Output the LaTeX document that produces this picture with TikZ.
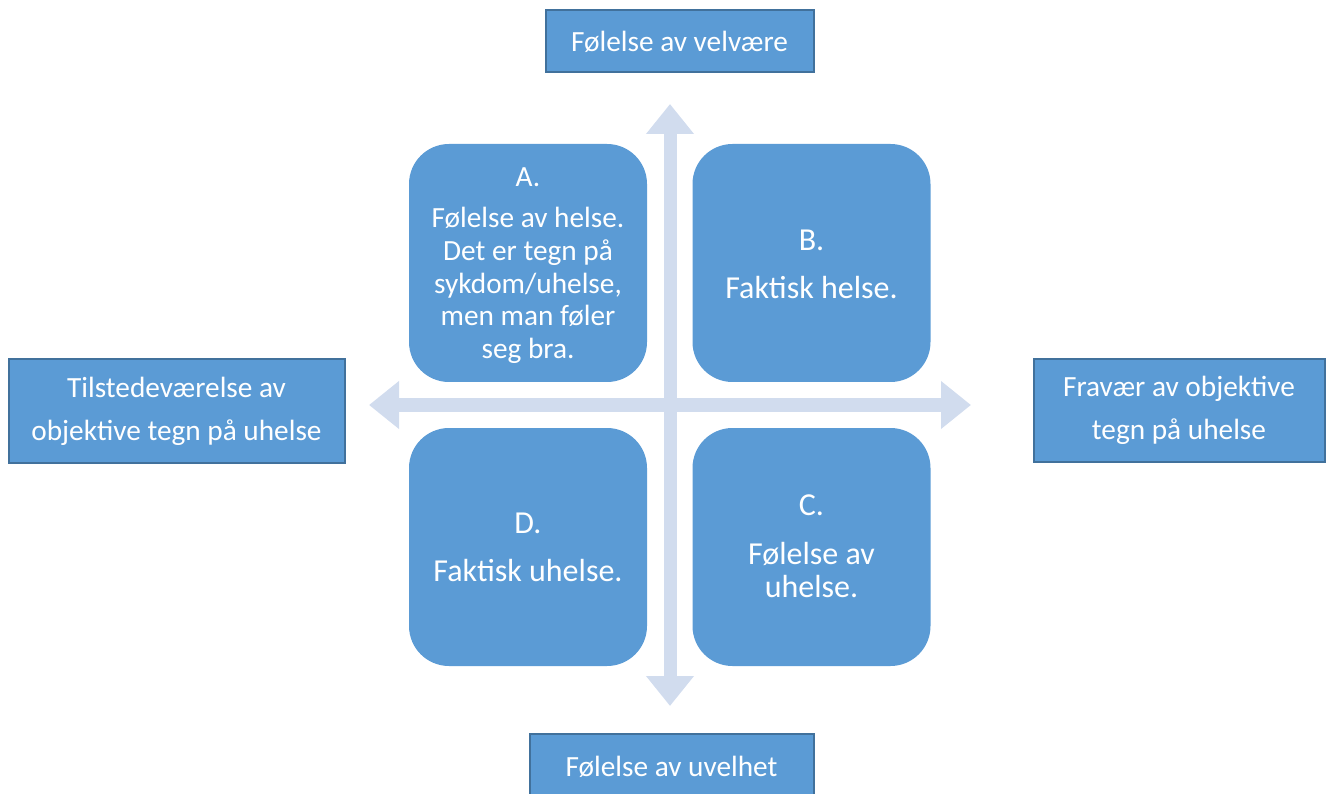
\documentclass[tikz,border=0pt]{standalone}
\usepackage{fontspec}
\setmainfont{Carlito}
\usetikzlibrary{arrows.meta}
\definecolor{boxblue}{HTML}{5B9BD5}
\definecolor{boxedge}{HTML}{41719C}
\definecolor{axisblue}{HTML}{D1DCEE}
\begin{document}
\begin{tikzpicture}[x=1pt,y=-1pt,
  labelbox/.style={draw=boxedge,line width=2pt,fill=boxblue,text=white,
    align=center,inner sep=0pt,font=\fontsize{29.3}{43}\selectfont},
  quadrant/.style={fill=boxblue,rounded corners=40pt,text=white,align=center,
    minimum width=238pt,minimum height=238pt,inner sep=0pt},
  smalltext/.style={text=white,align=center,inner sep=0pt,font=\fontsize{29.3}{32.8}\selectfont},
  bigtext/.style={text=white,align=center,inner sep=0pt,font=\fontsize{32}{33}\selectfont},
  axis/.style={draw=axisblue,line width=13pt,
    {Triangle[length=30pt,width=46pt]}-{Triangle[length=30pt,width=46pt]}}]
\useasboundingbox (0,0) rectangle (1326,794);
\clip (0,0) rectangle (1326,794);
% axis end points
\coordinate (west) at (369,405);
\coordinate (east) at (971,405);
\coordinate (north) at (670,104);
\coordinate (south) at (670,706);
\draw[axis] (west) -- (east);
\draw[axis] (north) -- (south);
% quadrants
\node[quadrant] (A) at (528,263) {};
\node[quadrant] (B) at (811.5,263) {};
\node[quadrant] (D) at (528,547) {};
\node[quadrant] (C) at (811.5,547) {};
\node[smalltext] (At) at (528,177) {A.};
\node[smalltext] (Ab) at (528,285.5)
  {Følelse av helse.\\Det er tegn på\\sykdom/uhelse,\\men man føler\\seg bra.};
\node[bigtext] (Bt) at (811.5,240) {B.};
\node[bigtext] (Bb) at (811.5,288) {Faktisk helse.};
\node[bigtext] (Dt) at (528,523) {D.};
\node[bigtext] (Db) at (528,571) {Faktisk uhelse.};
\node[bigtext] (Ct) at (811.5,505) {C.};
\node[bigtext] (Cb) at (811.5,570) {Følelse av\\uhelse.};
% outer labels
\node[labelbox,minimum width=268pt,minimum height=62pt] (top) at (679.5,41.5) {Følelse av velvære};
\node[labelbox,minimum width=284pt,minimum height=66pt] (bottom) at (671.5,767) {Følelse av uvelhet};
\node[labelbox,minimum width=336pt,minimum height=104pt] (left) at (176.5,411) {Tilstedeværelse av\\objektive tegn på uhelse};
\node[labelbox,minimum width=291pt,minimum height=102pt] (right) at (1179,410.5) {Fravær av objektive\\tegn på uhelse};
\end{tikzpicture}
\end{document}
